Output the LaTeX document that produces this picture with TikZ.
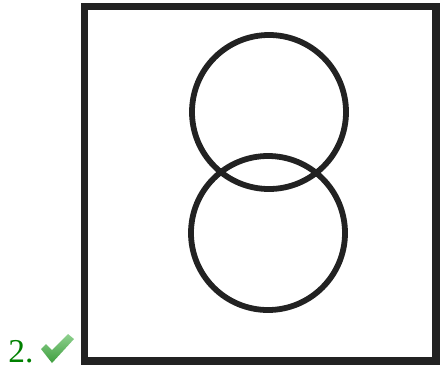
\documentclass[tikz,border=0pt]{standalone}
\usepackage{fontspec}
\setmainfont{Liberation Serif}
\definecolor{figInk}{HTML}{222222}
\definecolor{numGreen}{HTML}{008000}
\definecolor{tickLight}{HTML}{8FD18F}
\definecolor{tickDark}{HTML}{3E9E3E}
\usetikzlibrary{positioning}

\begin{document}
\begin{tikzpicture}[x=0.02cm, y=-0.02cm]
                \useasboundingbox (0,0) rectangle (442,369);

                % Frame
                \draw[figInk, line width=4pt] (84.5,6.5) rectangle (436,361);

                % Two overlapping circles
                \draw[figInk, line width=3.3pt] (269,112) circle (77);
                \draw[figInk, line width=3.3pt] (268,233) circle (77);

                % Number and tick
                \node[anchor=base west, inner sep=0pt, text=numGreen, font=\fontsize{19}{22}\selectfont] (num) at (8,362) {2.};
                \shade[top color=tickLight, bottom color=tickDark]
                    (41,349) -- (46,344) -- (52,350) -- (68,334) -- (74,339) -- (52,363) -- cycle;
\end{tikzpicture}
\end{document}
